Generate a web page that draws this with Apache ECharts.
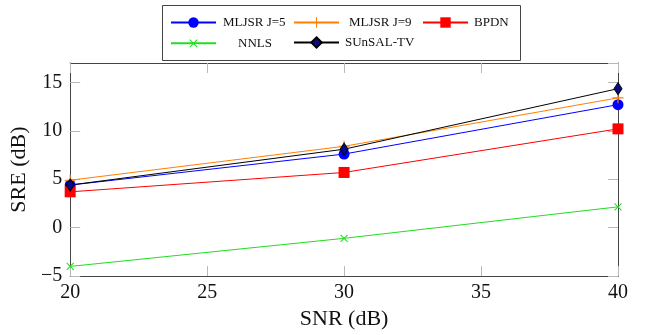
<!DOCTYPE html>
<html>
<head>
<meta charset="utf-8">
<script src="https://cdn.jsdelivr.net/npm/echarts@6/dist/echarts.min.js"></script>
<style>html,body{margin:0;padding:0;background:#fff}#c{width:646px;height:335px}</style>
</head>
<body>
<div id="c"></div>
<script>
var snr = [20, 30, 40];
var mljsr5 = [4.4, 7.6, 12.7];
var mljsr9 = [4.9, 8.4, 13.4];
var bpdn = [3.7, 5.7, 10.2];
var nnls = [-4.0, -1.1, 2.15];
var sunsal = [4.4, 8.1, 14.35];
var seriesNames = ['MLJSR J=5', 'MLJSR J=9', 'BPDN', 'NNLS', 'SUnSAL-TV'];
var xTicks = {min: 20, max: 40, interval: 5};
var yTicks = {min: -5, max: 17, interval: 5};

var FONT = '"Liberation Serif", "DejaVu Serif", serif';
var plusPath = 'path://M4.5,0H5.5V10H4.5Z M0,4.5H10V5.5H0Z';
function pairs(ys){ return snr.map(function(x,i){ return [x, ys[i]]; }); }

var styles = [
  {color:'#0000ff', symbol:'circle', size:11, itemStyle:{color:'#0000ff'}},
  {color:'#ff8000', symbol:plusPath, size:11, itemStyle:{color:'#ff8000'}},
  {color:'#ff0000', symbol:'rect', size:11, itemStyle:{color:'#ff0000'}},
  {color:'#22dd22', symbol:plusPath, size:10, rotate:45, itemStyle:{color:'#22dd22'}},
  {color:'#000000', symbol:'diamond', size:[8,12], itemStyle:{color:'#0a0a8c', borderColor:'#000', borderWidth:1}}
];
var dataArr = [mljsr5, mljsr9, bpdn, nnls, sunsal];

var series = seriesNames.map(function(n,i){
  var s = styles[i];
  return {
    name: n, type: 'line', data: pairs(dataArr[i]),
    symbol: s.symbol, symbolSize: s.size, symbolRotate: s.rotate || 0,
    showAllSymbol: true,
    lineStyle: {color: s.color, width: 1},
    itemStyle: s.itemStyle,
    emphasis: {disabled: true},
    animation: false
  };
});

var legendPos = [
  {left:170, top:16, pad:2},
  {left:293, top:16, pad:5},
  {left:422, top:16, pad:1},
  {left:170, top:36, pad:17},
  {left:293, top:36, pad:1}
];
var legends = seriesNames.map(function(n,i){
  var p = legendPos[i];
  return {
    data: [n], left: p.left, top: p.top, itemWidth: 45, itemHeight: 13,
    padding: 0, selectedMode: false,
    textStyle: {fontFamily: FONT, fontSize: 13, color: '#111', padding: [0,0,0,p.pad]}
  };
});

var tickStyle = {show:true, inside:true, length:10, lineStyle:{color:'#b8b8b8', width:1}};
var lineStyleAx = {show:true, onZero:false, lineStyle:{color:'#444', width:1}};

var option = {
  backgroundColor: '#fff',
  animation: false,
  grid: {left:66, right:28, top:63, bottom:56, containLabel:false},
  legend: legends,
  graphic: [{
    type:'rect', shape:{x:162.5, y:5.5, width:358, height:55},
    style:{fill:'none', stroke:'#444', lineWidth:1}, z:100, silent:true
  }],
  xAxis: [{
    type:'value', min:xTicks.min, max:xTicks.max, interval:xTicks.interval,
    position:'bottom',
    name:'SNR (dB)', nameLocation:'middle', nameGap:27,
    nameTextStyle:{fontFamily:FONT, fontSize:22, color:'#111'},
    axisLine: lineStyleAx, axisTick: tickStyle, splitLine:{show:false},
    axisLabel:{fontFamily:FONT, fontSize:20, color:'#111', margin:7}
  },{
    type:'value', min:xTicks.min, max:xTicks.max, interval:xTicks.interval,
    position:'top', axisLine: lineStyleAx, axisTick: tickStyle,
    axisLabel:{show:false}, splitLine:{show:false}
  }],
  yAxis: [{
    type:'value', min:yTicks.min, max:yTicks.max, interval:yTicks.interval,
    position:'left',
    name:'SRE (dB)', nameLocation:'middle', nameGap:36, nameRotate:90,
    nameTextStyle:{fontFamily:FONT, fontSize:22, color:'#111'},
    axisLine: lineStyleAx, axisTick: tickStyle, splitLine:{show:false},
    axisLabel:{fontFamily:FONT, fontSize:20, color:'#111', margin:8,
      formatter:function(v){ return v<0 ? '\u2212'+Math.abs(v) : String(v); }}
  },{
    type:'value', min:yTicks.min, max:yTicks.max, interval:yTicks.interval,
    position:'right', axisLine: lineStyleAx, axisTick: tickStyle,
    axisLabel:{show:false}, splitLine:{show:false}
  }],
  series: series
};
var chart = echarts.init(document.getElementById('c'), null, {renderer:'canvas'});
chart.setOption(option);
</script>
</body>
</html>
